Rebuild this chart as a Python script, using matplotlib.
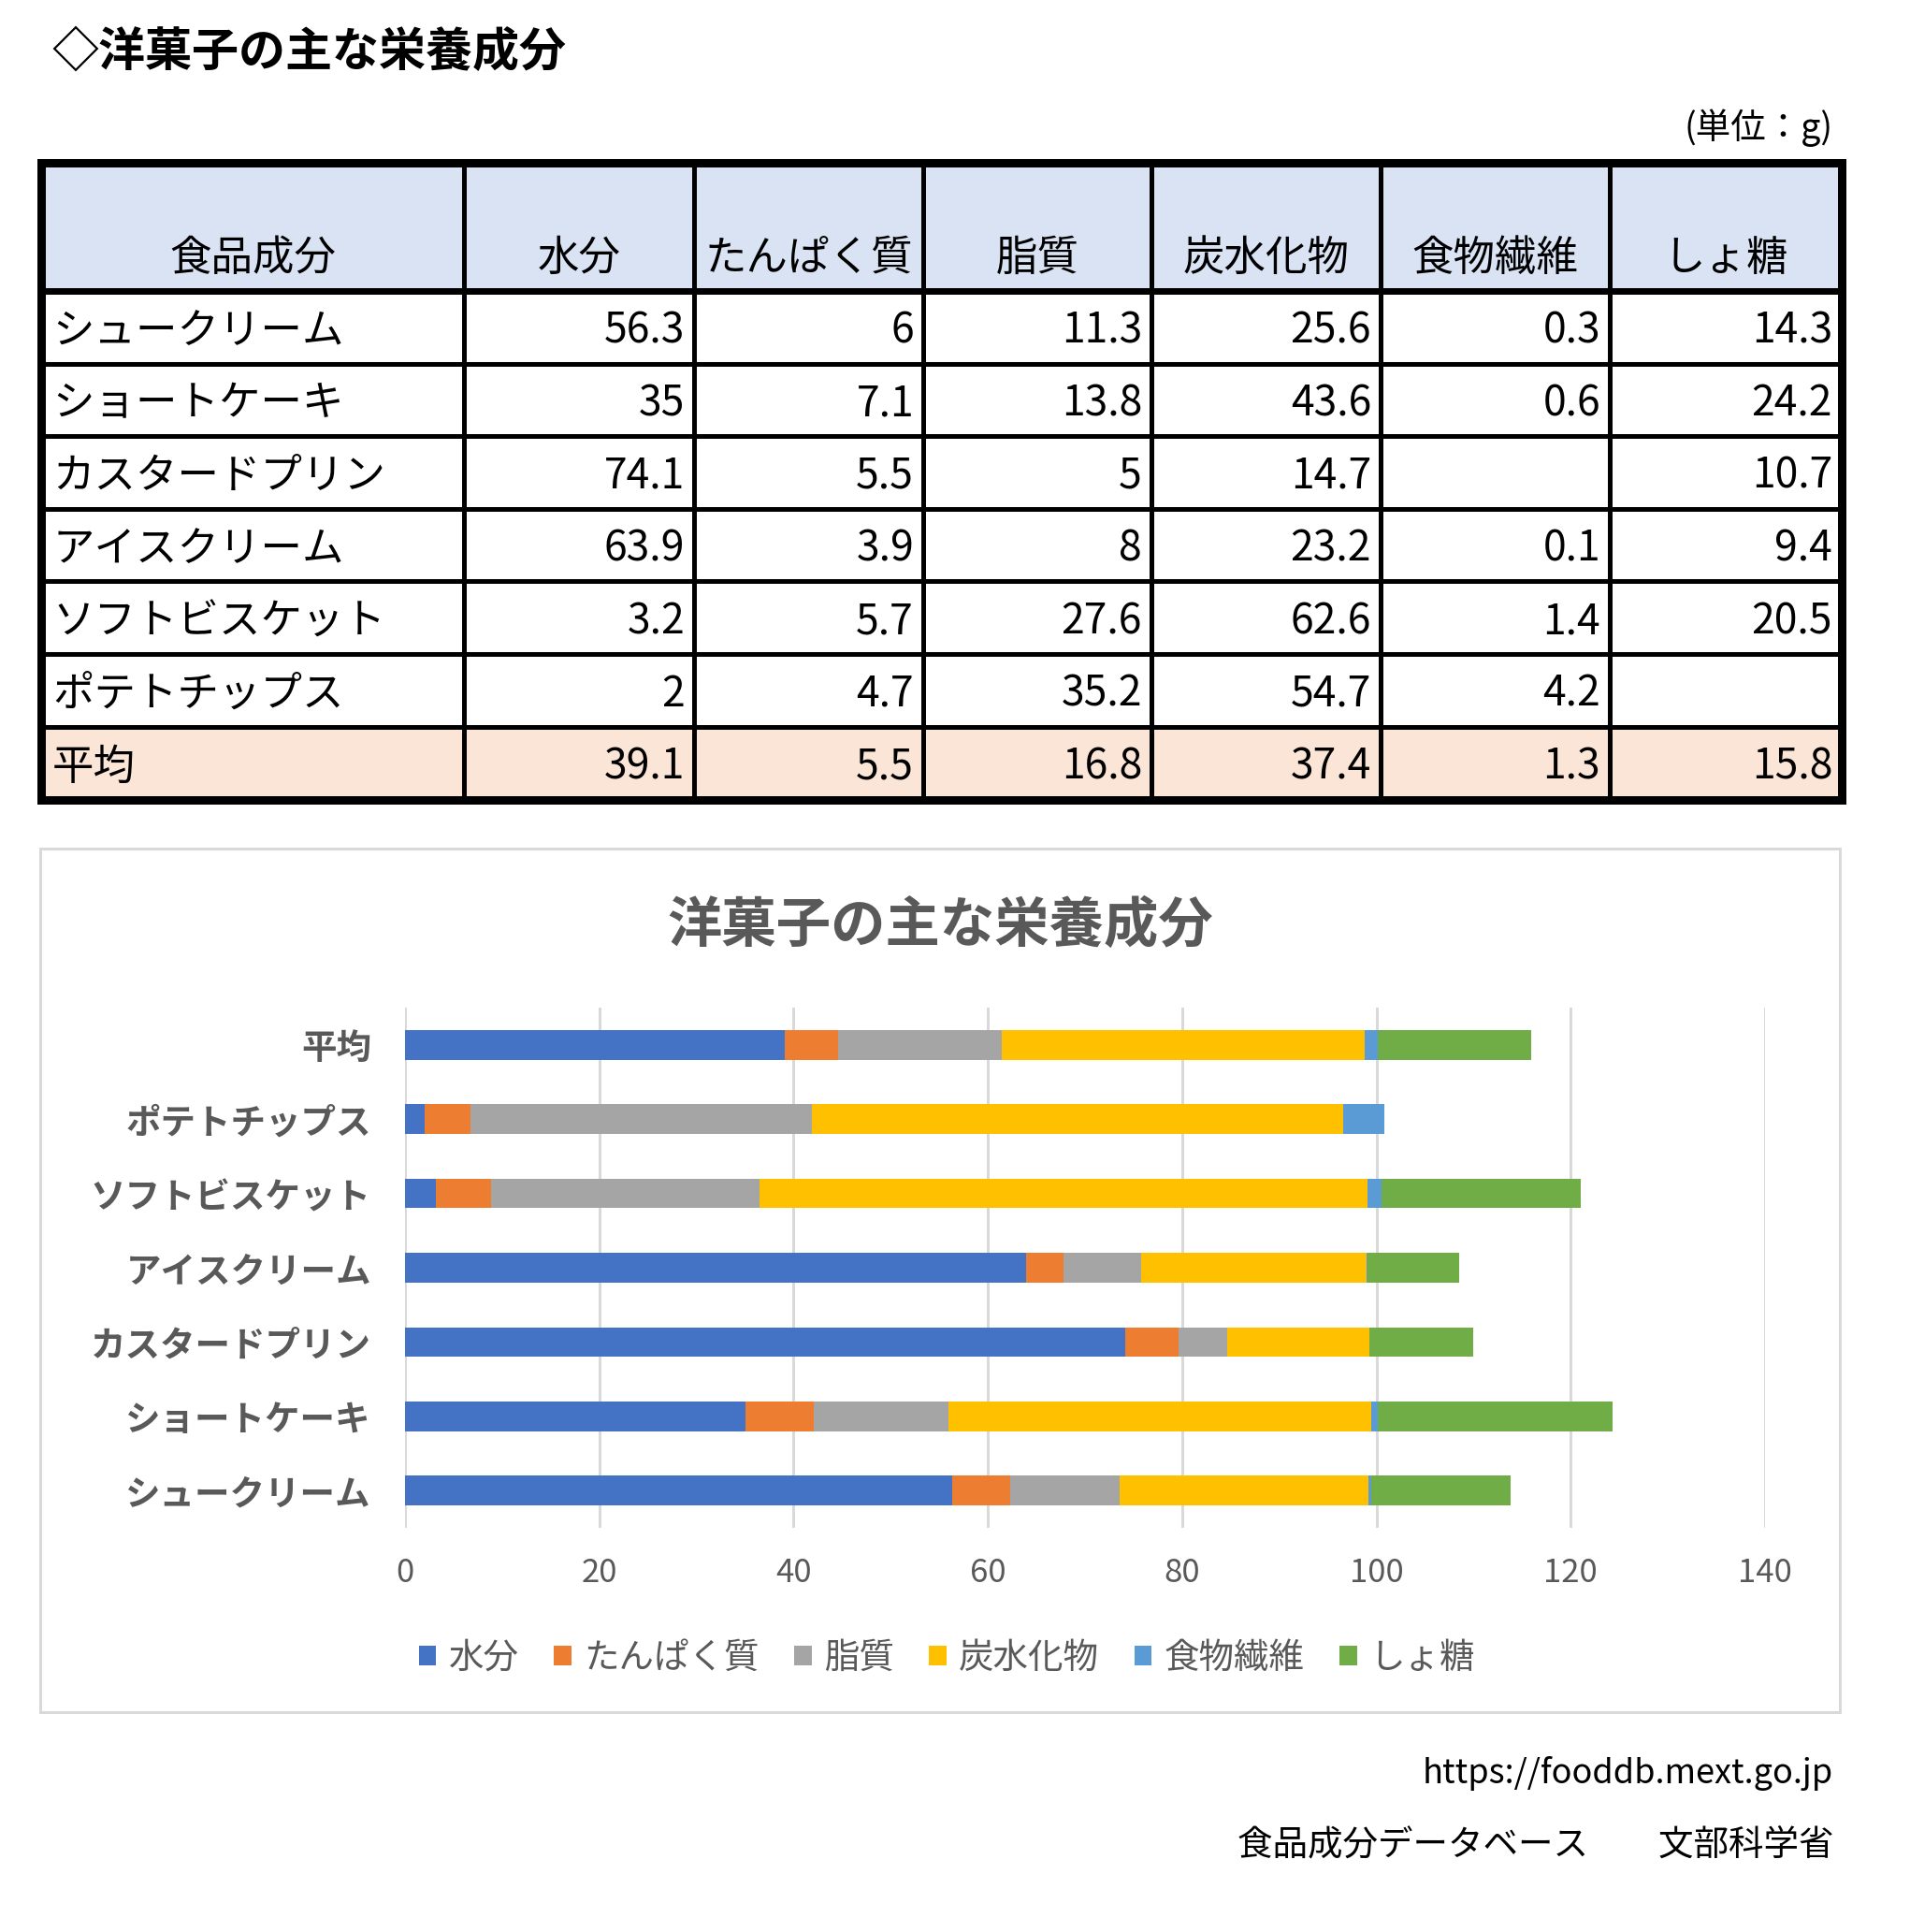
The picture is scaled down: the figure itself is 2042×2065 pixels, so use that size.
import numpy as np
import matplotlib
matplotlib.use('Agg')
import matplotlib.pyplot as plt
from matplotlib.patches import Rectangle

plt.rcParams['font.family'] = ['Noto Sans CJK JP', 'DejaVu Sans']

W, H, DPI = 2042, 2065, 100

foods = ['シュークリーム', 'ショートケーキ', 'カスタードプリン', 'アイスクリーム',
         'ソフトビスケット', 'ポテトチップス', '平均']
nutrients = ['水分', 'たんぱく質', '脂質', '炭水化物', '食物繊維', 'しょ糖']
water = [56.3, 35, 74.1, 63.9, 3.2, 2, 39.1]
protein = [6, 7.1, 5.5, 3.9, 5.7, 4.7, 5.5]
fat = [11.3, 13.8, 5, 8, 27.6, 35.2, 16.8]
carbs = [25.6, 43.6, 14.7, 23.2, 62.6, 54.7, 37.4]
fiber = [0.3, 0.6, None, 0.1, 1.4, 4.2, 1.3]
sucrose = [14.3, 24.2, 10.7, 9.4, 20.5, None, 15.8]
series = [water, protein, fat, carbs, fiber, sucrose]
colors = ['#4472C4', '#ED7D31', '#A5A5A5', '#FFC000', '#5B9BD5', '#70AD47']
x_ticks = [0, 20, 40, 60, 80, 100, 120, 140]

GRAY = '#595959'


def px(v):
    # pixel width -> points
    return v * 72 / DPI


def fmt(v):
    return '' if v is None else f'{v:g}'


fig = plt.figure(figsize=(W / DPI, H / DPI), dpi=DPI)
bg = fig.add_axes([0, 0, 1, 1])
bg.set_xlim(0, W)
bg.set_ylim(H, 0)
bg.axis('off')

# page title and unit
bg.text(55, 56, '◇洋菓子の主な栄養成分', fontsize=36, fontweight='bold', va='center', ha='left')
bg.text(1960, 137, '(単位：g)', fontsize=27, va='center', ha='right')

# table
col_edges = [44, 496, 742, 987, 1231, 1476, 1721, 1969]
row_edges = [174, 311, 388.6, 466.2, 543.8, 621.4, 699, 776.6, 855]
bg.add_patch(Rectangle((col_edges[0], row_edges[0]), col_edges[-1] - col_edges[0],
                       row_edges[1] - row_edges[0], facecolor='#DAE3F3', edgecolor='none'))
bg.add_patch(Rectangle((col_edges[0], row_edges[-2]), col_edges[-1] - col_edges[0],
                       row_edges[-1] - row_edges[-2], facecolor='#FBE5D6', edgecolor='none'))
for x in col_edges[1:-1]:
    bg.plot([x, x], [row_edges[0], row_edges[-1]], color='black', lw=px(5), solid_capstyle='butt')
for y in row_edges[2:-1]:
    bg.plot([col_edges[0], col_edges[-1]], [y, y], color='black', lw=px(5), solid_capstyle='butt')
bg.plot([col_edges[0], col_edges[-1]], [row_edges[1]] * 2, color='black', lw=px(7), solid_capstyle='butt')
bg.add_patch(Rectangle((col_edges[0], row_edges[0]), col_edges[-1] - col_edges[0],
                       row_edges[-1] - row_edges[0], facecolor='none', edgecolor='black',
                       lw=px(9), joinstyle='miter'))

headers = ['食品成分'] + nutrients
for j, h in enumerate(headers):
    bg.text((col_edges[j] + col_edges[j + 1]) / 2, 276, h, fontsize=32, ha='center', va='center')

for i, food in enumerate(foods):
    yc = (row_edges[i + 1] + row_edges[i + 2]) / 2 + 4
    bg.text(col_edges[0] + 12, yc, food, fontsize=32, ha='left', va='center')
    for j, s in enumerate(series):
        bg.text(col_edges[j + 2] - 10, yc, fmt(s[i]), fontsize=32, ha='right', va='center')

# chart frame and title
bg.add_patch(Rectangle((43, 907), 1924, 923, facecolor='none', edgecolor='#D9D9D9', lw=px(3)))
bg.text(1005, 990, '洋菓子の主な栄養成分', fontsize=42, fontweight='bold', color=GRAY,
        ha='center', va='center')

# footer
bg.text(1960, 1895, 'https://fooddb.mext.go.jp', fontsize=26, ha='right', va='center')
bg.text(1960, 1973, '食品成分データベース　　文部科学省', fontsize=27, ha='right', va='center')

# stacked bar chart
L, R, T, B = 433, 1887, 1077, 1633
ax = fig.add_axes([L / W, 1 - B / H, (R - L) / W, (B - T) / H])
ax.set_facecolor('none')
ypos = np.arange(len(foods))
left = np.zeros(len(foods))
for name, s, c in zip(nutrients, series, colors):
    vals = np.array([np.nan if v is None else v for v in s], dtype=float)
    ax.barh(ypos, np.nan_to_num(vals), left=left, height=0.4, color=c, label=name, zorder=3)
    left += np.nan_to_num(vals)

ax.set_xlim(0, 140)
ax.set_ylim(-0.5, len(foods) - 0.5)
ax.set_xticks(x_ticks)
ax.set_yticks(ypos)
ax.set_yticklabels(foods, fontsize=27, fontweight='bold', color=GRAY)
ax.tick_params(axis='x', length=0, pad=22, labelsize=25, labelcolor=GRAY)
ax.tick_params(axis='y', length=0, pad=26)
ax.grid(axis='x', color='#D9D9D9', lw=px(3), zorder=0)
ax.set_axisbelow(True)
for sp in ax.spines.values():
    sp.set_visible(False)

leg = fig.legend(*ax.get_legend_handles_labels(), loc='center', bbox_to_anchor=(1012 / W, 1 - 1772 / H),
                 ncol=6, frameon=False, fontsize=27, handlelength=0.5, handleheight=0.5,
                 handletextpad=0.35, columnspacing=1.0)
for t in leg.get_texts():
    t.set_color(GRAY)

fig.savefig('out.png', dpi=DPI)
